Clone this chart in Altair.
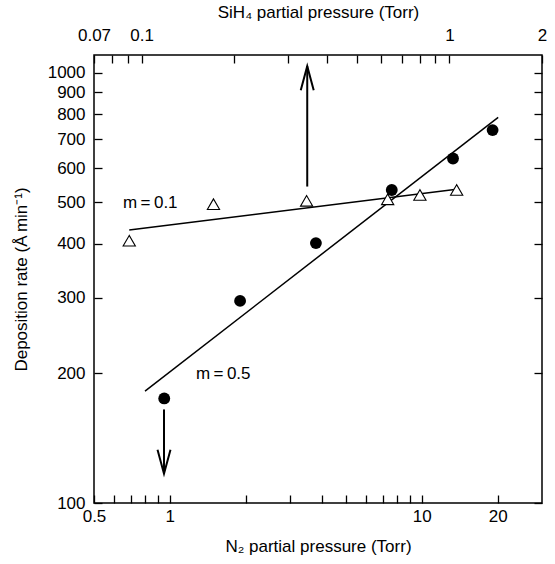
import altair as alt
import pandas as pd

# ---- data ----
tri_n2 = [0.69, 1.49, 3.49, 7.32, 9.83, 13.75]
tri_rate = [407, 495, 504, 508, 520, 534]
dot_n2 = [0.95, 1.90, 3.80, 7.60, 13.3, 19.1]
dot_rate = [175, 295, 402, 534, 632, 736]

fit_names = ["m = 0.1", "m = 0.5"]
fit_n2_start = [0.69, 0.797]
fit_n2_end = [13.75, 20.1]
fit_rate_start = [431, 182]
fit_rate_end = [536, 788]

label_text = ["m\u2009=\u20090.1", "m\u2009=\u20090.5"]
label_n2 = [0.652, 1.27]
label_rate = [498, 199]

arrow_dir = ["up", "down"]
arrow_n2 = [3.51, 0.948]
arrow_from = [544, 165]
arrow_to = [1036, 117]

n2_ticks = [0.5, 0.6, 0.7, 0.8, 0.9, 1, 2, 3, 4, 5, 6, 7, 8, 9, 10, 20]
n2_labels = [0.5, 1, 10, 20]
sih4_ticks = [0.07, 0.08, 0.09, 0.1, 0.2, 0.3, 0.4, 0.5, 0.6, 0.7, 0.8, 0.9, 1, 2]
sih4_labels = [0.07, 0.1, 1, 2]
rate_ticks = [100, 200, 300, 400, 500, 600, 700, 800, 900, 1000]

n2_domain = [0.5, 30]
sih4_domain = [0.07, 2]
rate_domain = [100, 1100]

# ---- tables ----
tri_df = pd.DataFrame({"n2": tri_n2, "rate": tri_rate})
dot_df = pd.DataFrame({"n2": dot_n2, "rate": dot_rate})
fit_df = pd.DataFrame({"name": fit_names, "x1": fit_n2_start, "x2": fit_n2_end,
                       "y1": fit_rate_start, "y2": fit_rate_end})
lab_df = pd.DataFrame({"text": label_text, "n2": label_n2, "rate": label_rate})
arr_df = pd.DataFrame({"dir": arrow_dir, "n2": arrow_n2, "y1": arrow_from, "y2": arrow_to})
sih4_df = pd.DataFrame({"sih4": sih4_domain})
rate_df = pd.DataFrame({"rate": rate_domain})

FONT = "Liberation Sans"
FS = 17


def xs():
    return alt.Scale(type="log", domain=n2_domain, nice=False)


def ys():
    return alt.Scale(type="log", domain=rate_domain, nice=False)


def lab_expr(vals):
    return "indexof(" + str(vals) + ", datum.value) >= 0 ? toString(datum.value) : ''"


common_axis = dict(domain=False, offset=-8, tickSize=8, tickColor="black", tickWidth=1.3,
                   labelFont=FONT, labelFontSize=FS, labelColor="black", labelOverlap=False,
                   labelFlush=False, titleFont=FONT, titleFontSize=FS, titleColor="black",
                   titleFontWeight="normal", grid=False)

x_bottom = alt.X("n2:Q", scale=xs(), axis=alt.Axis(
    orient="bottom", values=n2_ticks, labelExpr=lab_expr(n2_labels), labelPadding=5,
    title="N\u2082 partial pressure (Torr)", titlePadding=14, **common_axis))
y_left = alt.Y("rate:Q", scale=ys(), axis=alt.Axis(
    orient="left", values=rate_ticks, labelExpr="toString(datum.value)", labelPadding=9,
    title="Deposition rate (\u00c5\u2009min\u207b\u00b9)", titlePadding=17, **common_axis))

tri = alt.Chart(tri_df).mark_point(shape="triangle-up", size=150, filled=True, fill="white",
                                   stroke="black", strokeWidth=1.1, opacity=1).encode(
    x=x_bottom, y=y_left)

fits = alt.Chart(fit_df).mark_rule(color="black", strokeWidth=1.5).encode(
    x=alt.X("x1:Q", scale=xs(), axis=None), x2="x2:Q",
    y=alt.Y("y1:Q", scale=ys(), axis=None), y2="y2:Q")

dots = alt.Chart(dot_df).mark_circle(size=140, color="black", opacity=1).encode(
    x=alt.X("n2:Q", scale=xs(), axis=None), y=alt.Y("rate:Q", scale=ys(), axis=None))

texts = alt.Chart(lab_df).mark_text(align="left", baseline="middle", font=FONT,
                                    fontSize=FS, color="black").encode(
    x=alt.X("n2:Q", scale=xs(), axis=None), y=alt.Y("rate:Q", scale=ys(), axis=None),
    text="text:N")

arr_lines = alt.Chart(arr_df).mark_rule(color="black", strokeWidth=2).encode(
    x=alt.X("n2:Q", scale=xs(), axis=None),
    y=alt.Y("y1:Q", scale=ys(), axis=None), y2="y2:Q")

head_up = "M-0.27,1L0,0L0.27,1"
head_down = "M-0.27,-1L0,0L0.27,-1"
arr_heads = alt.Chart(arr_df).mark_point(filled=False, size=2304, strokeWidth=2,
                                         color="black", opacity=1).encode(
    x=alt.X("n2:Q", scale=xs(), axis=None),
    y=alt.Y("y2:Q", scale=ys(), axis=None),
    shape=alt.Shape("dir:N", scale=alt.Scale(domain=["up", "down"], range=[head_up, head_down]),
                    legend=None))

top_axis = alt.Chart(sih4_df).mark_point(opacity=0).encode(
    x=alt.X("sih4:Q", scale=alt.Scale(type="log", domain=sih4_domain, nice=False),
            axis=alt.Axis(orient="top", values=sih4_ticks, labelExpr=lab_expr(sih4_labels),
                          labelPadding=11, title="SiH\u2084 partial pressure (Torr)",
                          titlePadding=5, **common_axis)),
    y=alt.Y("rate:Q", scale=ys(), axis=None))

right_axis = alt.Chart(rate_df).mark_point(opacity=0).encode(
    x=alt.X("rate:Q", scale=alt.Scale(type="log", domain=rate_domain), axis=None),
    y=alt.Y("rate:Q", scale=ys(), axis=alt.Axis(
        orient="right", values=rate_ticks, labels=False, title=None, **common_axis)))

chart = alt.layer(fits, arr_lines, arr_heads, tri, dots, texts, top_axis, right_axis).resolve_scale(
    x="independent", y="independent"
).properties(
    width=448, height=448,
    autosize=alt.AutoSizeParams(type="none"),
    padding={"left": 94, "top": 55, "right": 13, "bottom": 61},
    background="white",
).configure_view(stroke="black", strokeWidth=1.5)

chart.save("out.html", embed_options={"renderer": "svg", "actions": False})
